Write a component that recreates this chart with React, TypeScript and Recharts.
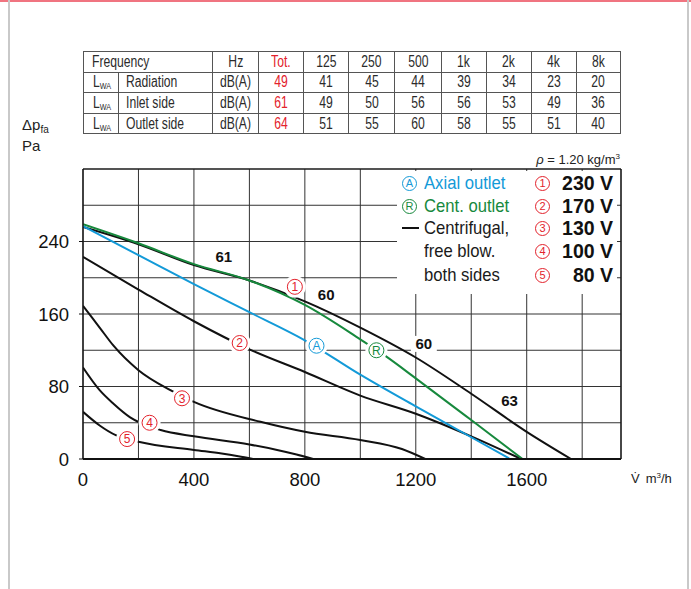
import React from 'react';
import { LineChart, Line, XAxis, YAxis, CartesianGrid, ReferenceLine, ReferenceDot } from 'recharts';

const SANS = "'Liberation Sans', Arial, sans-serif";
const RED = '#e3222c';
const BLUE = '#139ad8';
const GREEN = '#17893d';
const INK = '#111';

// sound power table
const bands = ['125', '250', '500', '1k', '2k', '4k', '8k'];
const rowNames = ['Radiation', 'Inlet side', 'Outlet side'];
const totals = [49, 61, 64];
const radiation = [41, 45, 44, 39, 34, 23, 20];
const inletSide = [49, 50, 56, 56, 53, 49, 36];
const outletSide = [51, 55, 60, 58, 55, 51, 40];

// fan curves (flow m3/h, pressure Pa)
const flow230 = [0, 200, 400, 600, 800, 1000, 1200, 1400, 1600, 1760];
const pres230 = [256, 237, 214, 197, 174, 145, 112, 72, 30, 0];
const flow170 = [0, 200, 400, 600, 800, 1000, 1200, 1400, 1580];
const pres170 = [223, 187, 152, 121, 96, 70, 50, 25, 0];
const flow130 = [0, 60, 110, 200, 315, 400, 640, 800, 1000, 1150, 1234];
const pres130 = [169, 145, 125, 98, 76, 63, 41, 30, 21, 11, 0];
const flow100 = [0, 60, 110, 170, 206, 280, 400, 600, 700, 770, 830];
const pres100 = [101, 76, 61, 46, 40, 32, 25, 16, 10, 5, 0];
const flow80 = [0, 60, 120, 200, 400, 500, 560, 613];
const pres80 = [52, 37, 26, 19, 10, 6, 3, 0];
const flowAxial = [0, 200, 400, 600, 800, 1000, 1200, 1400, 1540];
const presAxial = [257, 225, 193, 162, 131, 93, 58, 24, 0];
const flowCent = [0, 200, 400, 600, 800, 1000, 1089, 1200, 1400, 1585];
const presCent = [259, 238, 215, 197, 170, 132, 114, 89, 43, 0];

const xTicks = [0, 200, 400, 600, 800, 1000, 1200, 1400, 1600, 1800];
const xLabels = [0, 400, 800, 1200, 1600];
const yTicks = [0, 40, 80, 120, 160, 200, 240, 280];
const yLabels = [0, 80, 160, 240];

// curve tags
const voltTags = ['1', '2', '3', '4', '5'];
const voltTagFlow = [764, 565, 357, 240, 159];
const voltTagPres = [190, 128, 67, 40, 22];
const outletTags = ['A', 'R'];
const outletTagFlow = [842, 1058];
const outletTagPres = [125, 120];
const levelText = ['61', '60', '60', '63'];
const levelFlow = [508, 877, 1229, 1538];
const levelPres = [223, 181, 127, 64];

const voltages = ['230 V', '170 V', '130 V', '100 V', '80 V'];

const pts = (xs: number[], ys: number[]) => xs.map((x, i) => ({ x, y: ys[i] }));

const blackCurves = [
  pts(flow230, pres230),
  pts(flow170, pres170),
  pts(flow130, pres130),
  pts(flow100, pres100),
  pts(flow80, pres80),
];

// condensed text: the narrow face isn't installed, so squeeze the regular one
const Squeeze = ({ k, origin = 'left', children, style }: any) => (
  <span style={{ display: 'inline-block', transform: `scaleX(${k})`, transformOrigin: origin, whiteSpace: 'nowrap', ...style }}>
    {children}
  </span>
);

const CircleTag = ({ cx, cy, text, color }: any) => (
  <g>
    <circle cx={cx} cy={cy} r={11} fill="#fff" />
    <circle cx={cx} cy={cy} r={7.5} fill="#fff" stroke={color} strokeWidth={1} />
    <text x={cx} y={cy} dy="0.36em" textAnchor="middle" fontSize={12} fill={color} fontFamily={SANS}>
      {text}
    </text>
  </g>
);

const LevelTag = ({ cx, cy, text }: any) => (
  <g>
    <rect x={cx - 13} y={cy - 8} width={26} height={16} fill="#fff" />
    <text x={cx} y={cy} dy="0.36em" textAnchor="middle" fontSize={15} fontWeight="bold" fill={INK} fontFamily={SANS}>
      {text}
    </text>
  </g>
);

const XTick = ({ x, y, payload }: any) =>
  xLabels.includes(payload.value) ? (
    <text x={x} y={y} dy="0.71em" textAnchor="middle" fontSize={18.5} fill={INK} fontFamily={SANS}>
      {payload.value}
    </text>
  ) : null;

const YTick = ({ x, y, payload }: any) =>
  yLabels.includes(payload.value) ? (
    <g>
      <line x1={x + 10} x2={x + 14} y1={y} y2={y} stroke={INK} />
      <text x={x} y={y} dy="0.36em" textAnchor="end" fontSize={18.5} fill={INK} fontFamily={SANS}>
        {payload.value}
      </text>
    </g>
  ) : null;

const LegendCircle = ({ text, color }: any) => (
  <span
    style={{
      display: 'inline-flex',
      alignItems: 'center',
      justifyContent: 'center',
      width: 15,
      height: 15,
      boxSizing: 'border-box',
      border: `1px solid ${color}`,
      borderRadius: '50%',
      fontSize: 11,
      fontFamily: SANS,
      color,
      lineHeight: 1,
    }}
  >
    {text}
  </span>
);

const colWidths = [34.7, 94.3, 45.7, 45.3, 45.3, 46, 46.4, 45, 45, 45, 44.3];
const TK = 0.76;

const SoundTable = () => {
  const td: React.CSSProperties = { border: '1px solid #555', padding: 0, height: 19.6, textAlign: 'center', lineHeight: 1, overflow: 'visible' };
  const rows = [radiation, inletSide, outletSide];
  const C = ({ children }: any) => <Squeeze k={TK} origin="center">{children}</Squeeze>;
  return (
    <table
      style={{
        position: 'absolute',
        left: 83,
        top: 51,
        width: 537,
        borderCollapse: 'collapse',
        tableLayout: 'fixed',
        fontFamily: SANS,
        fontSize: 16,
        color: '#2b2b2b',
        border: '1.5px solid #222',
      }}
    >
      <colgroup>
        {colWidths.map((w, i) => (
          <col key={i} style={{ width: w }} />
        ))}
      </colgroup>
      <tbody>
        <tr>
          <td colSpan={2} style={{ ...td, textAlign: 'left', paddingLeft: 8 }}>
            <Squeeze k={TK}>Frequency</Squeeze>
          </td>
          <td style={td}><C>Hz</C></td>
          <td style={{ ...td, color: RED }}><C>Tot.</C></td>
          {bands.map((b) => (
            <td key={b} style={td}><C>{b}</C></td>
          ))}
        </tr>
        {rows.map((vals, i) => (
          <tr key={i}>
            <td style={{ ...td, textAlign: 'left', paddingLeft: 9 }}>
              <Squeeze k={TK}>
                L<span style={{ fontSize: 9.5, position: 'relative', top: 2 }}>WA</span>
              </Squeeze>
            </td>
            <td style={{ ...td, textAlign: 'left', paddingLeft: 7 }}>
              <Squeeze k={TK}>{rowNames[i]}</Squeeze>
            </td>
            <td style={td}><C>dB(A)</C></td>
            <td style={{ ...td, color: RED }}><C>{totals[i]}</C></td>
            {vals.map((v, j) => (
              <td key={j} style={td}><C>{v}</C></td>
            ))}
          </tr>
        ))}
      </tbody>
    </table>
  );
};

const rowCenters = [12, 35, 57, 80, 104];

const LegendBox = () => {
  const row = (i: number): React.CSSProperties => ({
    position: 'absolute',
    top: rowCenters[i] - 12,
    height: 24,
    display: 'flex',
    alignItems: 'center',
    whiteSpace: 'nowrap',
  });
  const txt: React.CSSProperties = { fontFamily: SANS, fontSize: 18.5 };
  const LK = 0.9;
  return (
    <div style={{ position: 'absolute', left: 397, top: 171, width: 220, height: 123, background: '#fff' }}>
      <div style={{ ...row(0), left: 5 }}>
        <LegendCircle text="A" color={BLUE} />
        <Squeeze k={LK} style={{ ...txt, color: BLUE, marginLeft: 7 }}>Axial outlet</Squeeze>
      </div>
      <div style={{ ...row(1), left: 5 }}>
        <LegendCircle text="R" color={GREEN} />
        <Squeeze k={LK} style={{ ...txt, color: GREEN, marginLeft: 7 }}>Cent. outlet</Squeeze>
      </div>
      <div style={{ ...row(2), left: 5 }}>
        <span style={{ display: 'inline-block', width: 17, height: 2, background: INK }} />
        <Squeeze k={LK} style={{ ...txt, color: '#1a1a1a', marginLeft: 5 }}>Centrifugal,</Squeeze>
      </div>
      <div style={{ ...row(3), left: 27 }}>
        <Squeeze k={LK} style={{ ...txt, color: '#1a1a1a' }}>free blow.</Squeeze>
      </div>
      <div style={{ ...row(4), left: 27 }}>
        <Squeeze k={LK} style={{ ...txt, color: '#1a1a1a' }}>both sides</Squeeze>
      </div>
      {voltages.map((v, i) => (
        <div key={v} style={{ ...row(i), left: 138, width: 78, justifyContent: 'space-between' }}>
          <LegendCircle text={voltTags[i]} color={RED} />
          <span style={{ fontFamily: SANS, fontWeight: 'bold', fontSize: 19.5, color: INK }}>{v}</span>
        </div>
      ))}
    </div>
  );
};

export default function App() {
  return (
    <div style={{ position: 'absolute', left: 0, top: 0, width: 691, height: 589, background: '#fff', overflow: 'hidden' }}>
      <div style={{ position: 'absolute', left: 0, top: 0, width: 691, height: 1.7, background: '#f07480' }} />
      <div style={{ position: 'absolute', left: 8, top: 0, width: 1.5, height: 589, background: '#c9c9c9' }} />
      <div style={{ position: 'absolute', left: 687, top: 0, width: 1.5, height: 589, background: '#c9c9c9' }} />

      <div style={{ position: 'absolute', left: 0, top: 0 }}>
        <LineChart width={691} height={589} margin={{ top: 169, right: 70, bottom: 100, left: 23 }}>
          <CartesianGrid stroke="#333" strokeWidth={1} />
          <XAxis
            type="number"
            dataKey="x"
            domain={[0, 1940]}
            allowDataOverflow
            ticks={xTicks}
            interval={0}
            height={30}
            tickSize={4}
            tickMargin={10}
            tickLine={false}
            axisLine={{ stroke: INK, strokeWidth: 2.2 }}
            tick={<XTick />}
          />
          <YAxis
            type="number"
            dataKey="y"
            domain={[0, 320]}
            allowDataOverflow
            ticks={yTicks}
            interval={0}
            width={60}
            tickSize={4}
            tickMargin={10}
            tickLine={false}
            axisLine={{ stroke: INK, strokeWidth: 1.3 }}
            tick={<YTick />}
          />
          <ReferenceLine y={320} stroke={INK} strokeWidth={1.2} />
          <ReferenceLine x={1940} stroke={INK} strokeWidth={1.2} />
          {blackCurves.map((d, i) => (
            <Line
              key={i}
              data={d}
              dataKey="y"
              type="monotone"
              stroke={INK}
              strokeWidth={2}
              dot={false}
              activeDot={false}
              isAnimationActive={false}
            />
          ))}
          <Line
            data={pts(flowAxial, presAxial)}
            dataKey="y"
            type="monotone"
            stroke={BLUE}
            strokeWidth={2}
            dot={false}
            activeDot={false}
            isAnimationActive={false}
          />
          <Line
            data={pts(flowCent, presCent)}
            dataKey="y"
            type="monotone"
            stroke={GREEN}
            strokeWidth={2}
            dot={false}
            activeDot={false}
            isAnimationActive={false}
          />
          {voltTags.map((t, i) => (
            <ReferenceDot
              key={'v' + t}
              x={voltTagFlow[i]}
              y={voltTagPres[i]}
              r={8}
              zIndex={2000}
              shape={(p: any) => <CircleTag cx={p.cx} cy={p.cy} text={t} color={RED} />}
            />
          ))}
          {outletTags.map((t, i) => (
            <ReferenceDot
              key={'o' + t}
              x={outletTagFlow[i]}
              y={outletTagPres[i]}
              r={8}
              zIndex={2000}
              shape={(p: any) => <CircleTag cx={p.cx} cy={p.cy} text={t} color={i === 0 ? BLUE : GREEN} />}
            />
          ))}
          {levelText.map((t, i) => (
            <ReferenceDot
              key={'l' + i}
              x={levelFlow[i]}
              y={levelPres[i]}
              r={8}
              zIndex={2000}
              shape={(p: any) => <LevelTag cx={p.cx} cy={p.cy} text={t} />}
            />
          ))}
        </LineChart>
      </div>

      <SoundTable />
      <LegendBox />

      <div style={{ position: 'absolute', left: 22, top: 115, fontFamily: SANS, fontSize: 15, lineHeight: '19px', color: '#222' }}>
        <div>
          Δp<span style={{ fontSize: 10, position: 'relative', top: 3 }}>fa</span>
        </div>
        <div>Pa</div>
      </div>
      <div
        style={{
          position: 'absolute',
          right: 71,
          top: 152.7,
          fontFamily: SANS,
          fontSize: 13,
          lineHeight: '13px',
          color: '#222',
          whiteSpace: 'nowrap',
        }}
      >
        <i>ρ</i> = 1.20 kg/m<span style={{ fontSize: 8, position: 'relative', top: -5 }}>3</span>
      </div>
      <div style={{ position: 'absolute', left: 631, top: 471, fontFamily: SANS, fontSize: 13, lineHeight: '15px', color: '#222', whiteSpace: 'nowrap' }}>
        V̇<span style={{ marginLeft: 6 }}>m</span>
        <span style={{ fontSize: 8, position: 'relative', top: -5 }}>3</span>/h
      </div>
    </div>
  );
}
